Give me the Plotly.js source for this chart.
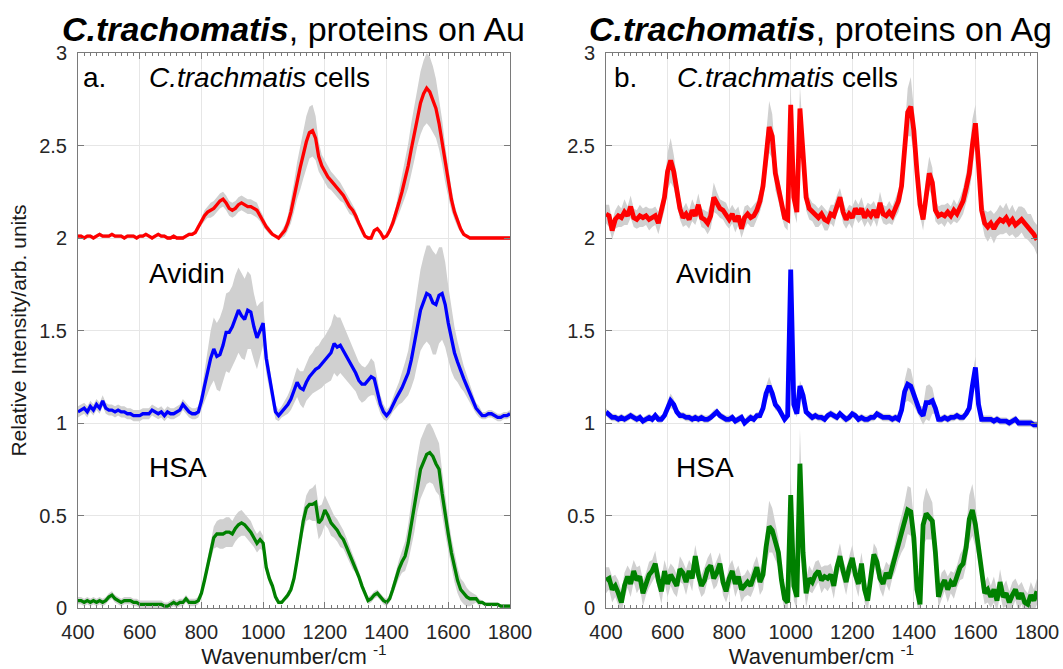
<!DOCTYPE html>
<html>
<head>
<meta charset="utf-8">
<script src="https://cdn.plot.ly/plotly-3.0.1.min.js"></script>
<style>html,body{margin:0;padding:0;background:#fff}#chart{width:1063px;height:669px}</style>
</head>
<body>
<div id="chart"></div>
<script>
// ---------------- DATA ----------------
const wavenumber = [
 400,410,420,430,440,450,460,470,480,490,
 500,510,520,530,540,550,560,570,580,590,
 600,610,620,630,640,650,660,670,680,690,
 700,710,720,730,740,750,760,770,780,790,
 800,810,820,830,840,850,860,870,880,890,
 900,910,920,930,940,950,960,970,980,990,
 1000,1010,1020,1030,1040,1050,1060,1070,1080,1090,
 1100,1110,1120,1130,1140,1150,1160,1170,1180,1190,
 1200,1210,1220,1230,1240,1250,1260,1270,1280,1290,
 1300,1310,1320,1330,1340,1350,1360,1370,1380,1390,
 1400,1410,1420,1430,1440,1450,1460,1470,1480,1490,
 1500,1510,1520,1530,1540,1550,1560,1570,1580,1590,
 1600,1610,1620,1630,1640,1650,1660,1670,1680,1690,
 1700,1710,1720,1730,1740,1750,1760,1770,1780,1790,
 1800];

// Panel a (Au): mean spectra and standard deviation bands
const auCellsMean = [
 2.01,2.01,2.00,2.01,2.01,2.00,2.01,2.02,2.01,2.01,
 2.01,2.02,2.01,2.01,2.01,2.00,2.01,2.01,2.01,2.00,
 2.01,2.01,2.02,2.01,2.00,2.01,2.02,2.01,2.01,2.00,
 2.00,2.01,2.00,2.00,2.00,2.01,2.02,2.02,2.03,2.06,
 2.09,2.12,2.14,2.15,2.16,2.18,2.20,2.21,2.19,2.16,
 2.15,2.16,2.18,2.19,2.18,2.17,2.17,2.16,2.15,2.12,
 2.09,2.06,2.04,2.02,2.01,2.00,2.02,2.04,2.08,2.14,
 2.22,2.31,2.38,2.45,2.52,2.57,2.58,2.54,2.44,2.39,
 2.36,2.33,2.31,2.29,2.27,2.25,2.23,2.20,2.17,2.15,
 2.12,2.08,2.04,2.01,2.00,2.00,2.04,2.05,2.03,2.00,
 2.01,2.04,2.08,2.13,2.19,2.25,2.32,2.39,2.48,2.57,
 2.66,2.73,2.78,2.81,2.79,2.75,2.70,2.62,2.52,2.40,
 2.30,2.21,2.14,2.09,2.05,2.02,2.01,2.00,2.00,2.00,
 2.00,2.00,2.00,2.00,2.00,2.00,2.00,2.00,2.00,2.00,
 2.00];
const auCellsSd = [
 0.01,0.01,0.01,0.01,0.01,0.01,0.01,0.01,0.01,0.01,
 0.01,0.01,0.01,0.01,0.01,0.01,0.01,0.01,0.01,0.01,
 0.01,0.01,0.01,0.01,0.01,0.01,0.01,0.01,0.01,0.01,
 0.01,0.01,0.01,0.01,0.01,0.01,0.01,0.01,0.01,0.01,
 0.02,0.03,0.03,0.04,0.04,0.04,0.04,0.04,0.04,0.04,
 0.04,0.04,0.04,0.04,0.04,0.04,0.04,0.04,0.04,0.03,
 0.03,0.02,0.02,0.01,0.01,0.01,0.02,0.03,0.04,0.06,
 0.08,0.10,0.12,0.13,0.14,0.14,0.14,0.12,0.08,0.06,
 0.06,0.06,0.05,0.05,0.05,0.05,0.04,0.04,0.04,0.03,
 0.03,0.02,0.02,0.01,0.01,0.01,0.01,0.01,0.01,0.01,
 0.01,0.02,0.03,0.04,0.06,0.08,0.10,0.12,0.14,0.15,
 0.16,0.17,0.18,0.19,0.19,0.18,0.16,0.14,0.12,0.10,
 0.08,0.06,0.04,0.03,0.02,0.01,0.01,0.01,0.01,0.01,
 0.01,0.01,0.01,0.01,0.01,0.01,0.01,0.01,0.01,0.01,
 0.01];
const auAvidinMean = [
 1.06,1.07,1.08,1.06,1.09,1.07,1.10,1.08,1.12,1.08,
 1.07,1.07,1.06,1.07,1.06,1.06,1.05,1.05,1.04,1.04,
 1.04,1.05,1.05,1.05,1.07,1.06,1.05,1.06,1.04,1.06,
 1.05,1.05,1.06,1.07,1.10,1.08,1.06,1.05,1.05,1.06,
 1.12,1.20,1.28,1.35,1.40,1.36,1.37,1.42,1.49,1.49,
 1.52,1.57,1.61,1.58,1.56,1.61,1.60,1.52,1.46,1.50,
 1.54,1.35,1.25,1.15,1.06,1.04,1.06,1.08,1.10,1.13,
 1.17,1.22,1.19,1.18,1.22,1.25,1.27,1.29,1.30,1.32,
 1.34,1.36,1.38,1.43,1.41,1.42,1.39,1.36,1.33,1.30,
 1.27,1.23,1.21,1.21,1.23,1.25,1.24,1.17,1.10,1.06,
 1.04,1.06,1.10,1.13,1.16,1.19,1.23,1.27,1.34,1.42,
 1.52,1.61,1.66,1.70,1.69,1.65,1.64,1.69,1.70,1.64,
 1.54,1.45,1.38,1.33,1.28,1.24,1.20,1.16,1.12,1.08,
 1.06,1.04,1.04,1.05,1.05,1.04,1.03,1.03,1.04,1.04,
 1.05];
const auAvidinSd = [
 0.03,0.03,0.03,0.03,0.03,0.03,0.03,0.03,0.03,0.03,
 0.03,0.03,0.03,0.03,0.03,0.03,0.03,0.03,0.03,0.03,
 0.03,0.03,0.03,0.03,0.03,0.03,0.03,0.03,0.03,0.03,
 0.03,0.03,0.03,0.03,0.03,0.03,0.03,0.03,0.03,0.03,
 0.05,0.08,0.12,0.15,0.17,0.18,0.20,0.20,0.21,0.22,
 0.22,0.23,0.23,0.23,0.22,0.21,0.20,0.18,0.17,0.15,
 0.12,0.08,0.06,0.05,0.04,0.03,0.03,0.04,0.05,0.06,
 0.07,0.08,0.09,0.10,0.10,0.11,0.11,0.12,0.12,0.13,
 0.13,0.14,0.15,0.16,0.16,0.15,0.14,0.13,0.12,0.11,
 0.10,0.10,0.10,0.09,0.09,0.10,0.09,0.07,0.05,0.04,
 0.03,0.03,0.04,0.05,0.06,0.08,0.10,0.12,0.15,0.18,
 0.20,0.22,0.24,0.26,0.27,0.28,0.27,0.26,0.25,0.23,
 0.20,0.17,0.14,0.11,0.09,0.07,0.06,0.05,0.04,0.03,
 0.03,0.02,0.02,0.02,0.02,0.02,0.02,0.02,0.02,0.02,
 0.02];
const auHsaMean = [
 0.04,0.04,0.03,0.04,0.03,0.04,0.03,0.04,0.03,0.04,
 0.06,0.07,0.05,0.04,0.03,0.04,0.04,0.04,0.03,0.03,
 0.02,0.02,0.02,0.02,0.02,0.02,0.02,0.02,0.01,0.01,
 0.02,0.03,0.02,0.03,0.03,0.05,0.03,0.03,0.03,0.04,
 0.08,0.15,0.23,0.31,0.38,0.40,0.40,0.40,0.41,0.41,
 0.40,0.43,0.45,0.46,0.45,0.43,0.41,0.38,0.35,0.37,
 0.35,0.22,0.16,0.12,0.06,0.03,0.03,0.05,0.07,0.10,
 0.16,0.26,0.37,0.47,0.54,0.56,0.56,0.57,0.46,0.48,
 0.53,0.50,0.46,0.44,0.42,0.39,0.37,0.33,0.29,0.25,
 0.22,0.17,0.12,0.08,0.04,0.05,0.07,0.08,0.06,0.04,
 0.03,0.05,0.10,0.16,0.21,0.25,0.28,0.35,0.45,0.55,
 0.67,0.75,0.79,0.83,0.84,0.82,0.78,0.75,0.62,0.50,
 0.40,0.30,0.22,0.15,0.10,0.08,0.06,0.05,0.05,0.05,
 0.03,0.03,0.02,0.02,0.02,0.02,0.02,0.01,0.01,0.01,
 0.01];
const auHsaSd = [
 0.02,0.02,0.02,0.02,0.02,0.02,0.02,0.02,0.02,0.02,
 0.02,0.02,0.02,0.02,0.02,0.02,0.02,0.02,0.02,0.02,
 0.02,0.02,0.02,0.02,0.02,0.02,0.02,0.02,0.02,0.02,
 0.02,0.02,0.02,0.02,0.02,0.02,0.02,0.02,0.02,0.02,
 0.02,0.03,0.04,0.05,0.06,0.07,0.08,0.08,0.08,0.08,
 0.07,0.07,0.07,0.07,0.06,0.06,0.06,0.05,0.05,0.05,
 0.04,0.03,0.03,0.02,0.02,0.01,0.01,0.01,0.02,0.02,
 0.03,0.04,0.05,0.06,0.07,0.08,0.09,0.10,0.09,0.08,
 0.08,0.07,0.07,0.06,0.06,0.06,0.05,0.05,0.04,0.04,
 0.03,0.03,0.02,0.02,0.02,0.02,0.02,0.02,0.02,0.02,
 0.02,0.02,0.03,0.04,0.05,0.06,0.08,0.10,0.12,0.14,
 0.15,0.16,0.16,0.16,0.16,0.15,0.15,0.14,0.12,0.10,
 0.09,0.08,0.08,0.07,0.06,0.06,0.05,0.04,0.03,0.02,
 0.02,0.01,0.01,0.01,0.01,0.01,0.01,0.01,0.01,0.01,
 0.01];

// Panel b (Ag)
const agCellsMean = [
 2.13,2.12,2.04,2.10,2.12,2.11,2.14,2.12,2.17,2.11,
 2.10,2.12,2.11,2.12,2.10,2.11,2.12,2.08,2.14,2.22,
 2.36,2.42,2.36,2.26,2.16,2.11,2.13,2.10,2.15,2.12,
 2.18,2.11,2.10,2.08,2.12,2.22,2.19,2.16,2.15,2.13,
 2.10,2.13,2.09,2.12,2.05,2.11,2.13,2.11,2.12,2.15,
 2.20,2.28,2.45,2.60,2.55,2.35,2.27,2.18,2.11,2.10,
 2.72,2.22,2.14,2.70,2.45,2.22,2.16,2.14,2.12,2.11,
 2.13,2.10,2.09,2.13,2.12,2.18,2.22,2.14,2.10,2.13,
 2.11,2.16,2.13,2.16,2.11,2.14,2.12,2.15,2.11,2.19,
 2.13,2.12,2.14,2.12,2.16,2.20,2.28,2.50,2.68,2.71,
 2.58,2.36,2.18,2.10,2.25,2.35,2.30,2.15,2.12,2.13,
 2.12,2.14,2.12,2.15,2.13,2.16,2.20,2.27,2.35,2.50,
 2.62,2.40,2.15,2.08,2.06,2.08,2.05,2.08,2.10,2.09,
 2.11,2.08,2.10,2.07,2.09,2.10,2.08,2.06,2.05,2.02,
 1.99];
const agCellsSd = [
 0.05,0.06,0.05,0.05,0.06,0.05,0.07,0.05,0.06,0.05,
 0.05,0.06,0.05,0.05,0.06,0.05,0.05,0.06,0.05,0.07,
 0.10,0.12,0.09,0.07,0.06,0.05,0.06,0.05,0.06,0.05,
 0.06,0.05,0.05,0.06,0.07,0.08,0.06,0.05,0.05,0.06,
 0.05,0.05,0.06,0.05,0.05,0.06,0.05,0.05,0.06,0.05,
 0.06,0.08,0.11,0.14,0.12,0.09,0.07,0.06,0.05,0.06,
 0.10,0.08,0.06,0.12,0.10,0.07,0.06,0.05,0.06,0.05,
 0.05,0.06,0.05,0.05,0.06,0.05,0.05,0.06,0.05,0.05,
 0.06,0.05,0.05,0.06,0.05,0.05,0.06,0.05,0.05,0.06,
 0.05,0.05,0.06,0.05,0.05,0.06,0.07,0.10,0.13,0.16,
 0.12,0.08,0.06,0.06,0.08,0.09,0.08,0.06,0.05,0.05,
 0.06,0.05,0.05,0.06,0.05,0.06,0.07,0.08,0.10,0.14,
 0.10,0.07,0.06,0.07,0.08,0.07,0.08,0.07,0.08,0.07,
 0.08,0.07,0.08,0.07,0.08,0.07,0.08,0.07,0.08,0.07,
 0.08];
const agAvidinMean = [
 1.06,1.04,1.03,1.03,1.02,1.03,1.02,1.03,1.04,1.03,
 1.02,1.03,1.01,1.02,1.03,1.02,1.04,1.02,1.02,1.04,
 1.09,1.12,1.10,1.06,1.04,1.04,1.03,1.03,1.02,1.03,
 1.02,1.03,1.02,1.02,1.03,1.05,1.06,1.04,1.03,1.02,
 1.02,1.03,1.01,1.02,1.03,1.00,1.02,1.03,1.02,1.04,
 1.04,1.08,1.16,1.20,1.16,1.10,1.08,1.05,1.02,1.04,
 1.83,1.10,1.05,1.20,1.15,1.06,1.04,1.03,1.04,1.03,
 1.03,1.02,1.04,1.05,1.04,1.03,1.05,1.03,1.02,1.03,
 1.05,1.04,1.02,1.03,1.02,1.02,1.03,1.03,1.05,1.04,
 1.03,1.03,1.03,1.02,1.03,1.02,1.07,1.17,1.21,1.20,
 1.15,1.10,1.06,1.04,1.11,1.11,1.12,1.08,1.02,1.02,
 1.03,1.02,1.03,1.03,1.04,1.03,1.03,1.05,1.08,1.20,
 1.30,1.10,1.02,1.02,1.02,1.02,1.01,1.02,1.01,1.01,
 1.01,1.00,1.01,1.02,1.00,1.00,1.00,1.00,1.00,0.99,
 0.99];
const agAvidinSd = [
 0.02,0.02,0.02,0.02,0.02,0.02,0.02,0.02,0.02,0.02,
 0.02,0.02,0.02,0.02,0.02,0.02,0.02,0.02,0.02,0.02,
 0.03,0.04,0.03,0.02,0.02,0.02,0.02,0.02,0.02,0.02,
 0.02,0.02,0.02,0.02,0.02,0.02,0.02,0.02,0.02,0.02,
 0.02,0.02,0.02,0.02,0.02,0.02,0.02,0.02,0.02,0.02,
 0.02,0.03,0.04,0.05,0.04,0.03,0.02,0.02,0.02,0.02,
 0.05,0.03,0.02,0.03,0.03,0.02,0.02,0.02,0.02,0.02,
 0.02,0.02,0.02,0.02,0.02,0.02,0.02,0.02,0.02,0.02,
 0.02,0.02,0.02,0.02,0.02,0.02,0.02,0.02,0.02,0.02,
 0.02,0.02,0.02,0.02,0.02,0.02,0.03,0.06,0.09,0.09,
 0.06,0.04,0.03,0.05,0.09,0.10,0.07,0.03,0.02,0.02,
 0.02,0.02,0.02,0.02,0.02,0.02,0.02,0.02,0.03,0.05,
 0.06,0.03,0.02,0.02,0.02,0.02,0.02,0.02,0.02,0.02,
 0.02,0.02,0.02,0.02,0.02,0.02,0.02,0.02,0.02,0.02,
 0.02];
const agHsaMean = [
 0.15,0.16,0.10,0.12,0.08,0.03,0.12,0.17,0.13,0.20,
 0.15,0.17,0.08,0.13,0.18,0.20,0.24,0.15,0.09,0.20,
 0.13,0.18,0.15,0.12,0.21,0.19,0.14,0.20,0.16,0.28,
 0.18,0.12,0.15,0.21,0.23,0.16,0.19,0.24,0.14,0.09,
 0.16,0.20,0.13,0.17,0.10,0.12,0.14,0.12,0.17,0.22,
 0.14,0.18,0.33,0.44,0.42,0.36,0.30,0.15,0.05,0.03,
 0.61,0.12,0.06,0.78,0.30,0.08,0.16,0.14,0.18,0.20,
 0.15,0.17,0.16,0.18,0.12,0.22,0.28,0.20,0.14,0.22,
 0.27,0.18,0.13,0.24,0.10,0.04,0.17,0.29,0.25,0.16,
 0.13,0.19,0.16,0.22,0.28,0.35,0.40,0.45,0.53,0.52,
 0.38,0.10,0.02,0.45,0.51,0.49,0.47,0.30,0.06,0.12,
 0.15,0.10,0.14,0.12,0.17,0.22,0.24,0.33,0.48,0.53,
 0.45,0.33,0.18,0.08,0.10,0.06,0.10,0.04,0.14,0.06,
 0.08,0.03,0.07,0.10,0.05,0.08,0.03,0.02,0.07,0.04,
 0.09];
const agHsaSd = [
 0.07,0.06,0.07,0.06,0.07,0.06,0.07,0.06,0.07,0.06,
 0.07,0.06,0.07,0.06,0.07,0.06,0.07,0.06,0.07,0.06,
 0.07,0.06,0.07,0.06,0.07,0.06,0.07,0.06,0.07,0.06,
 0.07,0.06,0.07,0.06,0.07,0.06,0.07,0.06,0.07,0.06,
 0.07,0.06,0.07,0.06,0.07,0.06,0.07,0.06,0.07,0.06,
 0.07,0.08,0.10,0.14,0.12,0.10,0.08,0.07,0.07,0.07,
 0.12,0.08,0.07,0.19,0.12,0.08,0.07,0.06,0.07,0.06,
 0.07,0.06,0.07,0.06,0.07,0.06,0.07,0.06,0.07,0.06,
 0.07,0.06,0.07,0.06,0.07,0.06,0.07,0.06,0.07,0.06,
 0.07,0.06,0.07,0.06,0.08,0.09,0.10,0.12,0.13,0.13,
 0.10,0.08,0.08,0.12,0.14,0.12,0.10,0.07,0.06,0.07,
 0.06,0.07,0.06,0.07,0.06,0.07,0.08,0.10,0.13,0.14,
 0.12,0.08,0.07,0.06,0.07,0.06,0.07,0.06,0.07,0.06,
 0.07,0.06,0.07,0.06,0.07,0.06,0.07,0.06,0.07,0.06,
 0.07];

const xTicks = [400, 600, 800, 1000, 1200, 1400, 1600, 1800];
const yTicks = [0, 0.5, 1, 1.5, 2, 2.5, 3];
const yTickText = ['0', '0.5', '1', '1.5', '2', '2.5', '3'];

// ---------------- DRAWING ----------------
const FONT = 'Liberation Sans, Arial, Helvetica, sans-serif';
const BAND = '#d0d0d0';

function band(mean, sd, xa, ya) {
  const upper = mean.map((v, i) => v + sd[i]);
  const lower = mean.map((v, i) => v - sd[i]);
  return {
    x: wavenumber.concat(wavenumber.slice().reverse()),
    y: upper.concat(lower.slice().reverse()),
    xaxis: xa, yaxis: ya, type: 'scatter', mode: 'lines',
    fill: 'toself', fillcolor: BAND, line: {width: 0, color: BAND},
    hoverinfo: 'skip', showlegend: false
  };
}
function line(mean, color, width, xa, ya) {
  return {x: wavenumber, y: mean, xaxis: xa, yaxis: ya, type: 'scatter', mode: 'lines',
          line: {color: color, width: width}, showlegend: false};
}

const RED = '#ff0000', BLUE = '#0000ff', GREEN = '#008000';
const traces = [
  band(auCellsMean, auCellsSd, 'x', 'y'),
  band(auAvidinMean, auAvidinSd, 'x', 'y'),
  band(auHsaMean, auHsaSd, 'x', 'y'),
  line(auCellsMean, RED, 3.3, 'x', 'y'),
  line(auAvidinMean, BLUE, 3.3, 'x', 'y'),
  line(auHsaMean, GREEN, 3.3, 'x', 'y'),
  band(agCellsMean, agCellsSd, 'x2', 'y2'),
  band(agAvidinMean, agAvidinSd, 'x2', 'y2'),
  band(agHsaMean, agHsaSd, 'x2', 'y2'),
  line(agCellsMean, RED, 4.8, 'x2', 'y2'),
  line(agAvidinMean, BLUE, 4.8, 'x2', 'y2'),
  line(agHsaMean, GREEN, 4.8, 'x2', 'y2'),
  // empty traces so the top minor-tick axes are created
  {x: [], y: [], xaxis: 'x3', yaxis: 'y', type: 'scatter', mode: 'lines', showlegend: false},
  {x: [], y: [], xaxis: 'x4', yaxis: 'y2', type: 'scatter', mode: 'lines', showlegend: false}
];

const W = 1063, H = 669;
const AX = '#7a7a7a';
function xAxis(d, anchor) {
  return {
    domain: d, anchor: anchor, range: [400, 1800],
    tickvals: xTicks, ticktext: xTicks.map(String),
    ticks: 'inside', ticklen: 6, tickcolor: AX, tickwidth: 1,
    showline: true, linecolor: AX, linewidth: 1, mirror: 'ticks',
    showgrid: true, gridcolor: '#e6e6e6', gridwidth: 1, zeroline: false,
    minor: {ticks: 'inside', dtick: 20, tick0: 400, ticklen: 3, tickcolor: AX, showgrid: false},
    tickfont: {family: FONT, size: 20, color: '#262626'},
    ticklabelstandoff: 6, automargin: false,
    title: {text: 'Wavenumber/cm <sup>-1</sup>', font: {family: FONT, size: 22, color: '#1a1a1a'}, standoff: 5}
  };
}
function topMinor(d, overlay, anchor) {
  return {
    domain: d, anchor: anchor, overlaying: overlay, side: 'top', range: [400, 1800],
    tickmode: 'linear', tick0: 400, dtick: 20, ticks: 'inside', ticklen: 3, tickcolor: AX, tickwidth: 1,
    showticklabels: false, showgrid: false, showline: false, zeroline: false, automargin: false
  };
}
function yAxis(anchor, withTitle) {
  const a = {
    domain: [1 - 608 / H, 1 - 53 / H], anchor: anchor, range: [0, 3],
    tickvals: yTicks, ticktext: yTickText,
    ticks: 'inside', ticklen: 6, tickcolor: AX, tickwidth: 1,
    showline: true, linecolor: AX, linewidth: 1, mirror: 'ticks',
    showgrid: true, gridcolor: '#e6e6e6', gridwidth: 1, zeroline: false,
    tickfont: {family: FONT, size: 20, color: '#262626'},
    ticklabelstandoff: 6, automargin: false
  };
  if (withTitle) a.title = {text: 'Relative Intensity/arb. units', font: {family: FONT, size: 21, color: '#1a1a1a'}, standoff: 6};
  return a;
}

function txt(x, y, text, xref, yref, size, opts) {
  return Object.assign({x: x, y: y, xref: xref, yref: yref, text: text, showarrow: false,
    xanchor: 'left', yanchor: 'middle', font: {family: FONT, size: size, color: '#000'}}, opts || {});
}

const annotations = [
  txt(293 / W, 1 - 29 / H, '<b><i>C.trachomatis</i></b>, proteins on Au', 'paper', 'paper', 34, {xanchor: 'center'}),
  txt(820 / W, 1 - 29 / H, '<b><i>C.trachomatis</i></b>, proteins on Ag', 'paper', 'paper', 34, {xanchor: 'center'}),
  txt(410, 2.87, 'a.', 'x', 'y', 28),
  txt(625, 2.865, '<i>C.trachmatis</i> cells', 'x', 'y', 28),
  txt(622, 1.81, 'Avidin', 'x', 'y', 28),
  txt(622, 0.76, 'HSA', 'x', 'y', 28),
  txt(418, 2.87, 'b.', 'x2', 'y2', 28),
  txt(625, 2.865, '<i>C.trachmatis</i> cells', 'x2', 'y2', 28),
  txt(622, 1.81, 'Avidin', 'x2', 'y2', 28),
  txt(622, 0.76, 'HSA', 'x2', 'y2', 28)
];

const layout = {
  width: W, height: H,
  margin: {l: 0, r: 0, t: 0, b: 0},
  paper_bgcolor: '#ffffff', plot_bgcolor: '#ffffff',
  font: {family: FONT, color: '#000'},
  showlegend: false,
  xaxis: xAxis([78 / W, 510 / W], 'y'),
  yaxis: yAxis('x', true),
  xaxis2: xAxis([606 / W, 1037 / W], 'y2'),
  yaxis2: yAxis('x2', false),
  xaxis3: topMinor([78 / W, 510 / W], 'x', 'y'),
  xaxis4: topMinor([606 / W, 1037 / W], 'x2', 'y2'),
  annotations: annotations
};

Plotly.newPlot('chart', traces, layout, {displayModeBar: false, staticPlot: true});
</script>
</body>
</html>
